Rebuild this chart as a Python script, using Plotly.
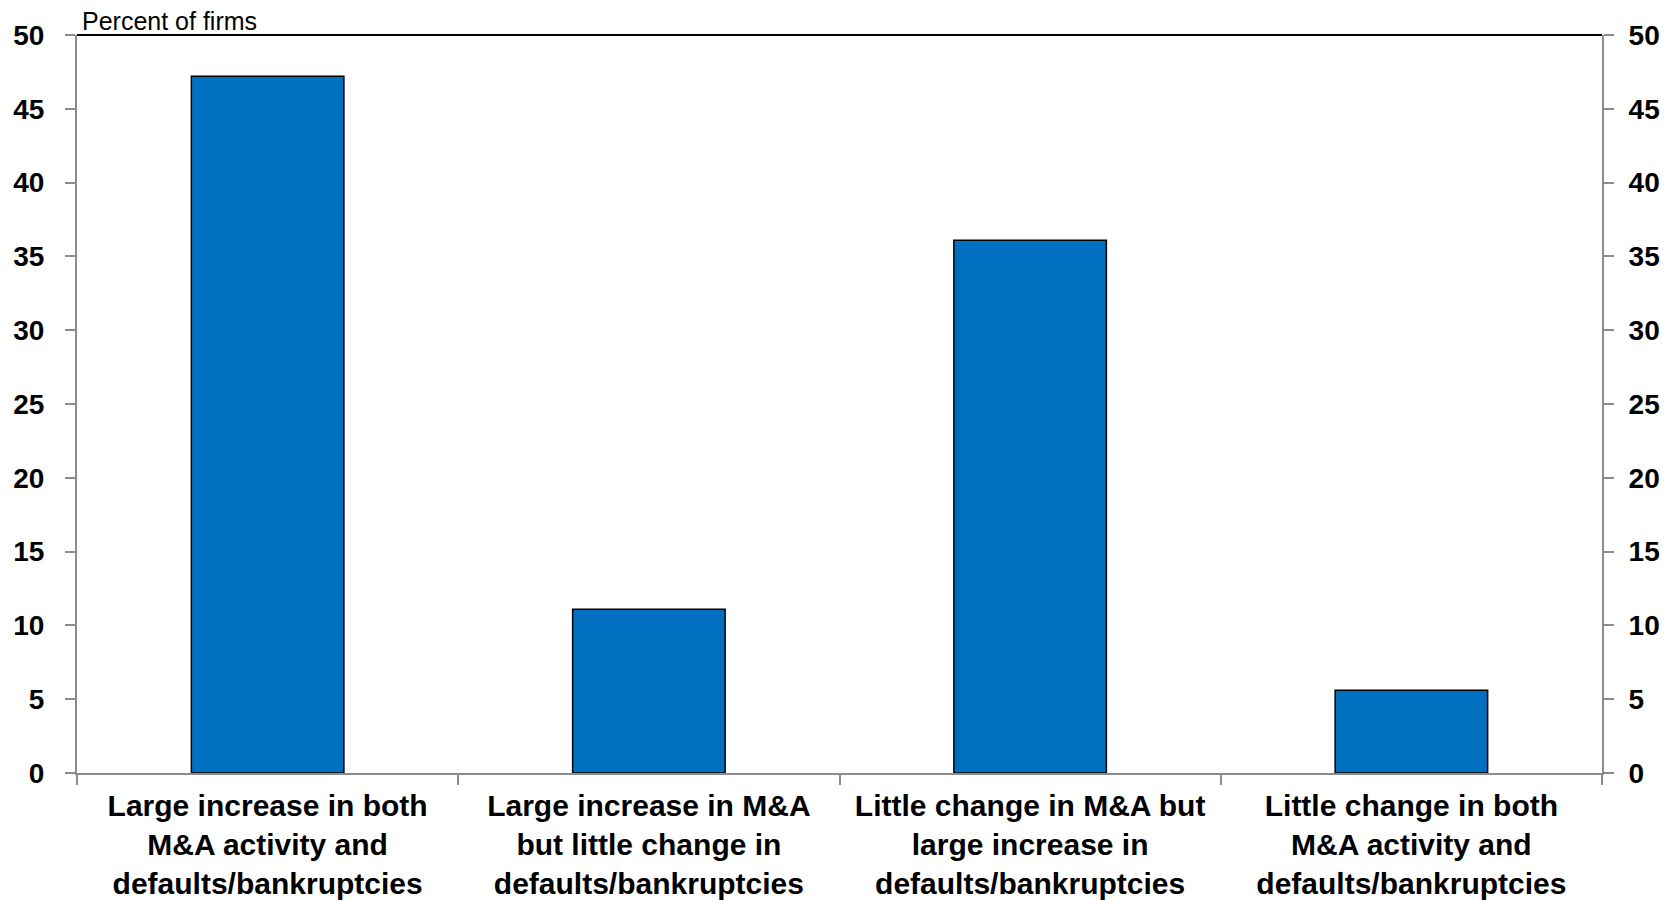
import plotly.graph_objects as go

categories = [
    "Large increase in both<br>M&A activity and<br>defaults/bankruptcies",
    "Large increase in M&A<br>but little change in<br>defaults/bankruptcies",
    "Little change in M&A but<br>large increase in<br>defaults/bankruptcies",
    "Little change in both<br>M&A activity and<br>defaults/bankruptcies",
]
values = [47.2, 11.1, 36.1, 5.6]
y_ticks = [0, 5, 10, 15, 20, 25, 30, 35, 40, 45, 50]

FONT = "Liberation Sans, Arial, sans-serif"
GREY = "#8c8c8c"

fig = go.Figure()
fig.add_trace(go.Bar(
    x=categories, y=values, width=0.4,
    marker=dict(color="#0070C0", line=dict(color="black", width=1.5)),
    showlegend=False, hoverinfo="skip",
))
fig.add_trace(go.Scatter(
    x=categories, y=values, yaxis="y2", mode="markers",
    marker=dict(opacity=0), showlegend=False, hoverinfo="skip",
))

ytick_font = dict(family=FONT, size=28, color="black", weight="bold")
xtick_font = dict(family=FONT, size=30, color="black", weight="bold")
yax = dict(
    range=[0, 50], tickvals=y_ticks, showgrid=False, zeroline=False,
    showline=True, linecolor=GREY, linewidth=2,
    ticks="outside", ticklen=10, tickcolor=GREY, tickwidth=2,
    tickfont=ytick_font,
)
fig.update_layout(
    width=1664, height=893,
    margin=dict(l=69, r=70, t=27, b=128, autoexpand=False),
    paper_bgcolor="white", plot_bgcolor="white",
    xaxis=dict(
        showgrid=False, showline=True, linecolor=GREY, linewidth=2,
        ticks="outside", tickson="boundaries", ticklen=10, tickcolor=GREY, tickwidth=2,
        tickfont=xtick_font, ticklabelstandoff=5, tickangle=0,
    ),
    yaxis=dict(yax, side="left", ticklabelstandoff=15),
    yaxis2=dict(yax, side="right", overlaying="y", matches="y", ticklabelstandoff=9),
    shapes=[dict(type="line", xref="paper", yref="paper", x0=0, x1=1, y0=1, y1=1,
                 line=dict(color="black", width=2))],
    annotations=[dict(text="Percent of firms", xref="paper", yref="paper",
                      x=0, y=1, xanchor="left", yanchor="bottom", xshift=4, yshift=-1,
                      borderpad=0,
                      showarrow=False, font=dict(family=FONT, size=25, color="black"))],
)

fig.write_html("out.html")
